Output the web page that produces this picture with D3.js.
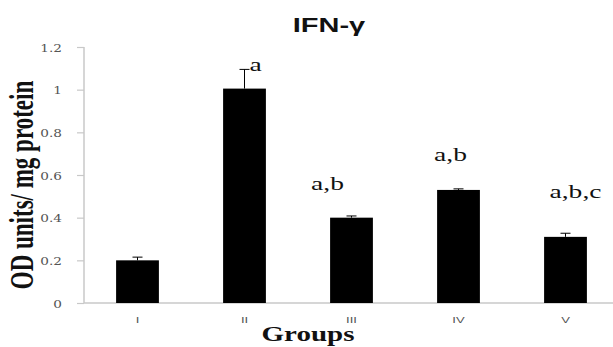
<!DOCTYPE html>
<html>
<head>
<meta charset="utf-8">
<script src="https://cdn.jsdelivr.net/npm/d3@7"></script>
<style>
  body { margin: 0; background: #fff; }
  svg { display: block; }
</style>
</head>
<body>
<div id="chart"></div>
<script>
var groups = ['I', 'II', 'III', 'IV', 'V'];
var means = [0.20, 1.005, 0.40, 0.53, 0.31];
var errors = [0.015, 0.09, 0.008, 0.005, 0.017];
var letters = ['', 'a', 'a,b', 'a,b', 'a,b,c'];
var yTicks = [0, 0.2, 0.4, 0.6, 0.8, 1, 1.2];

// hand placed label offsets (px) relative to error bar top
var letterDx = [0, 11, -24, -8, 10];
var letterDy = [0, 2, -26, -28, -35];

var width = 613, height = 347;
var stretch = 1.45; // picture is wider than its text

var svg = d3.select('#chart').append('svg')
  .attr('width', width)
  .attr('height', height);

var x = d3.scaleBand()
  .domain(groups)
  .range([84, 619])
  .paddingInner(0.6)
  .paddingOuter(0.3);

var y = d3.scaleLinear()
  .domain([0, 1.2])
  .range([303, 47]);

// y axis
var yAxis = svg.append('g')
  .attr('transform', 'translate(84,0)')
  .call(d3.axisLeft(y).tickValues(yTicks).tickSize(7).tickFormat(function(d){ return d; }));
yAxis.select('.domain').attr('stroke', '#c8c8c8').attr('stroke-width', 1.5)
  .attr('d', 'M0,' + y(1.2) + 'V' + y(0));
yAxis.selectAll('.tick line').attr('stroke', '#c8c8c8').attr('stroke-width', 1.2);
yAxis.selectAll('.tick text')
  .attr('x', null).attr('dy', null)
  .attr('transform', 'translate(-22,4) scale(1.3,1)')
  .attr('font-family', '"DejaVu Serif", Georgia, serif')
  .attr('font-size', 10.5)
  .attr('fill', '#555');

// x axis
var xAxis = svg.append('g')
  .attr('transform', 'translate(0,' + y(0) + ')')
  .call(d3.axisBottom(x).tickSize(0));
xAxis.select('.domain').attr('stroke', '#c8c8c8').attr('stroke-width', 1.5)
  .attr('d', 'M84,0H613');
xAxis.selectAll('.tick text')
  .attr('y', null).attr('dy', null)
  .attr('transform', 'translate(0,20) scale(' + stretch + ',1)')
  .attr('font-family', '"Liberation Sans", Arial, sans-serif')
  .attr('font-size', 9)
  .attr('fill', '#555');

// bars
svg.selectAll('rect.bar').data(groups)
  .enter().append('rect')
  .attr('class', 'bar')
  .attr('x', function(d){ return x(d); })
  .attr('y', function(d, i){ return y(means[i]); })
  .attr('width', x.bandwidth())
  .attr('height', function(d, i){ return y(0) - y(means[i]); })
  .attr('fill', '#000');

// error bars
var err = svg.selectAll('g.err').data(groups)
  .enter().append('g')
  .attr('class', 'err');
err.append('line')
  .attr('x1', function(d){ return x(d) + x.bandwidth() / 2; })
  .attr('x2', function(d){ return x(d) + x.bandwidth() / 2; })
  .attr('y1', function(d, i){ return y(means[i]); })
  .attr('y2', function(d, i){ return y(means[i] + errors[i]); })
  .attr('stroke', '#000').attr('stroke-width', 1);
err.append('line')
  .attr('x1', function(d){ return x(d) + x.bandwidth() / 2 - 5; })
  .attr('x2', function(d){ return x(d) + x.bandwidth() / 2 + 5; })
  .attr('y1', function(d, i){ return y(means[i] + errors[i]); })
  .attr('y2', function(d, i){ return y(means[i] + errors[i]); })
  .attr('stroke', '#000').attr('stroke-width', 1);

// significance letters
svg.selectAll('text.sig').data(groups)
  .enter().append('text')
  .attr('class', 'sig')
  .attr('transform', function(d, i){
    var cx = x(d) + x.bandwidth() / 2 + letterDx[i];
    var cy = y(means[i] + errors[i]) + letterDy[i];
    return 'translate(' + cx + ',' + cy + ') scale(' + stretch + ',1)';
  })
  .attr('text-anchor', 'middle')
  .attr('font-family', '"Liberation Serif", "Times New Roman", serif')
  .attr('font-size', 19)
  .attr('fill', '#111')
  .text(function(d, i){ return letters[i]; });

// title
svg.append('text')
  .attr('transform', 'translate(329,32) scale(' + stretch + ',1)')
  .attr('text-anchor', 'middle')
  .attr('font-family', '"Liberation Sans", Arial, sans-serif')
  .attr('font-weight', 'bold')
  .attr('font-size', 20)
  .attr('fill', '#111')
  .text('IFN-γ');

// axis titles
svg.append('text')
  .attr('transform', 'translate(308,341) scale(' + stretch + ',1)')
  .attr('text-anchor', 'middle')
  .attr('font-family', '"Liberation Serif", "Times New Roman", serif')
  .attr('font-weight', 'bold')
  .attr('font-size', 20)
  .attr('fill', '#111')
  .text('Groups');

svg.append('text')
  .attr('transform', 'translate(33,185) rotate(-90) scale(1,' + stretch + ')')
  .attr('text-anchor', 'middle')
  .attr('font-family', '"Liberation Serif", "Times New Roman", serif')
  .attr('font-weight', 'bold')
  .attr('font-size', 23)
  .attr('fill', '#111')
  .text('OD units/ mg protein');
</script>
</body>
</html>
